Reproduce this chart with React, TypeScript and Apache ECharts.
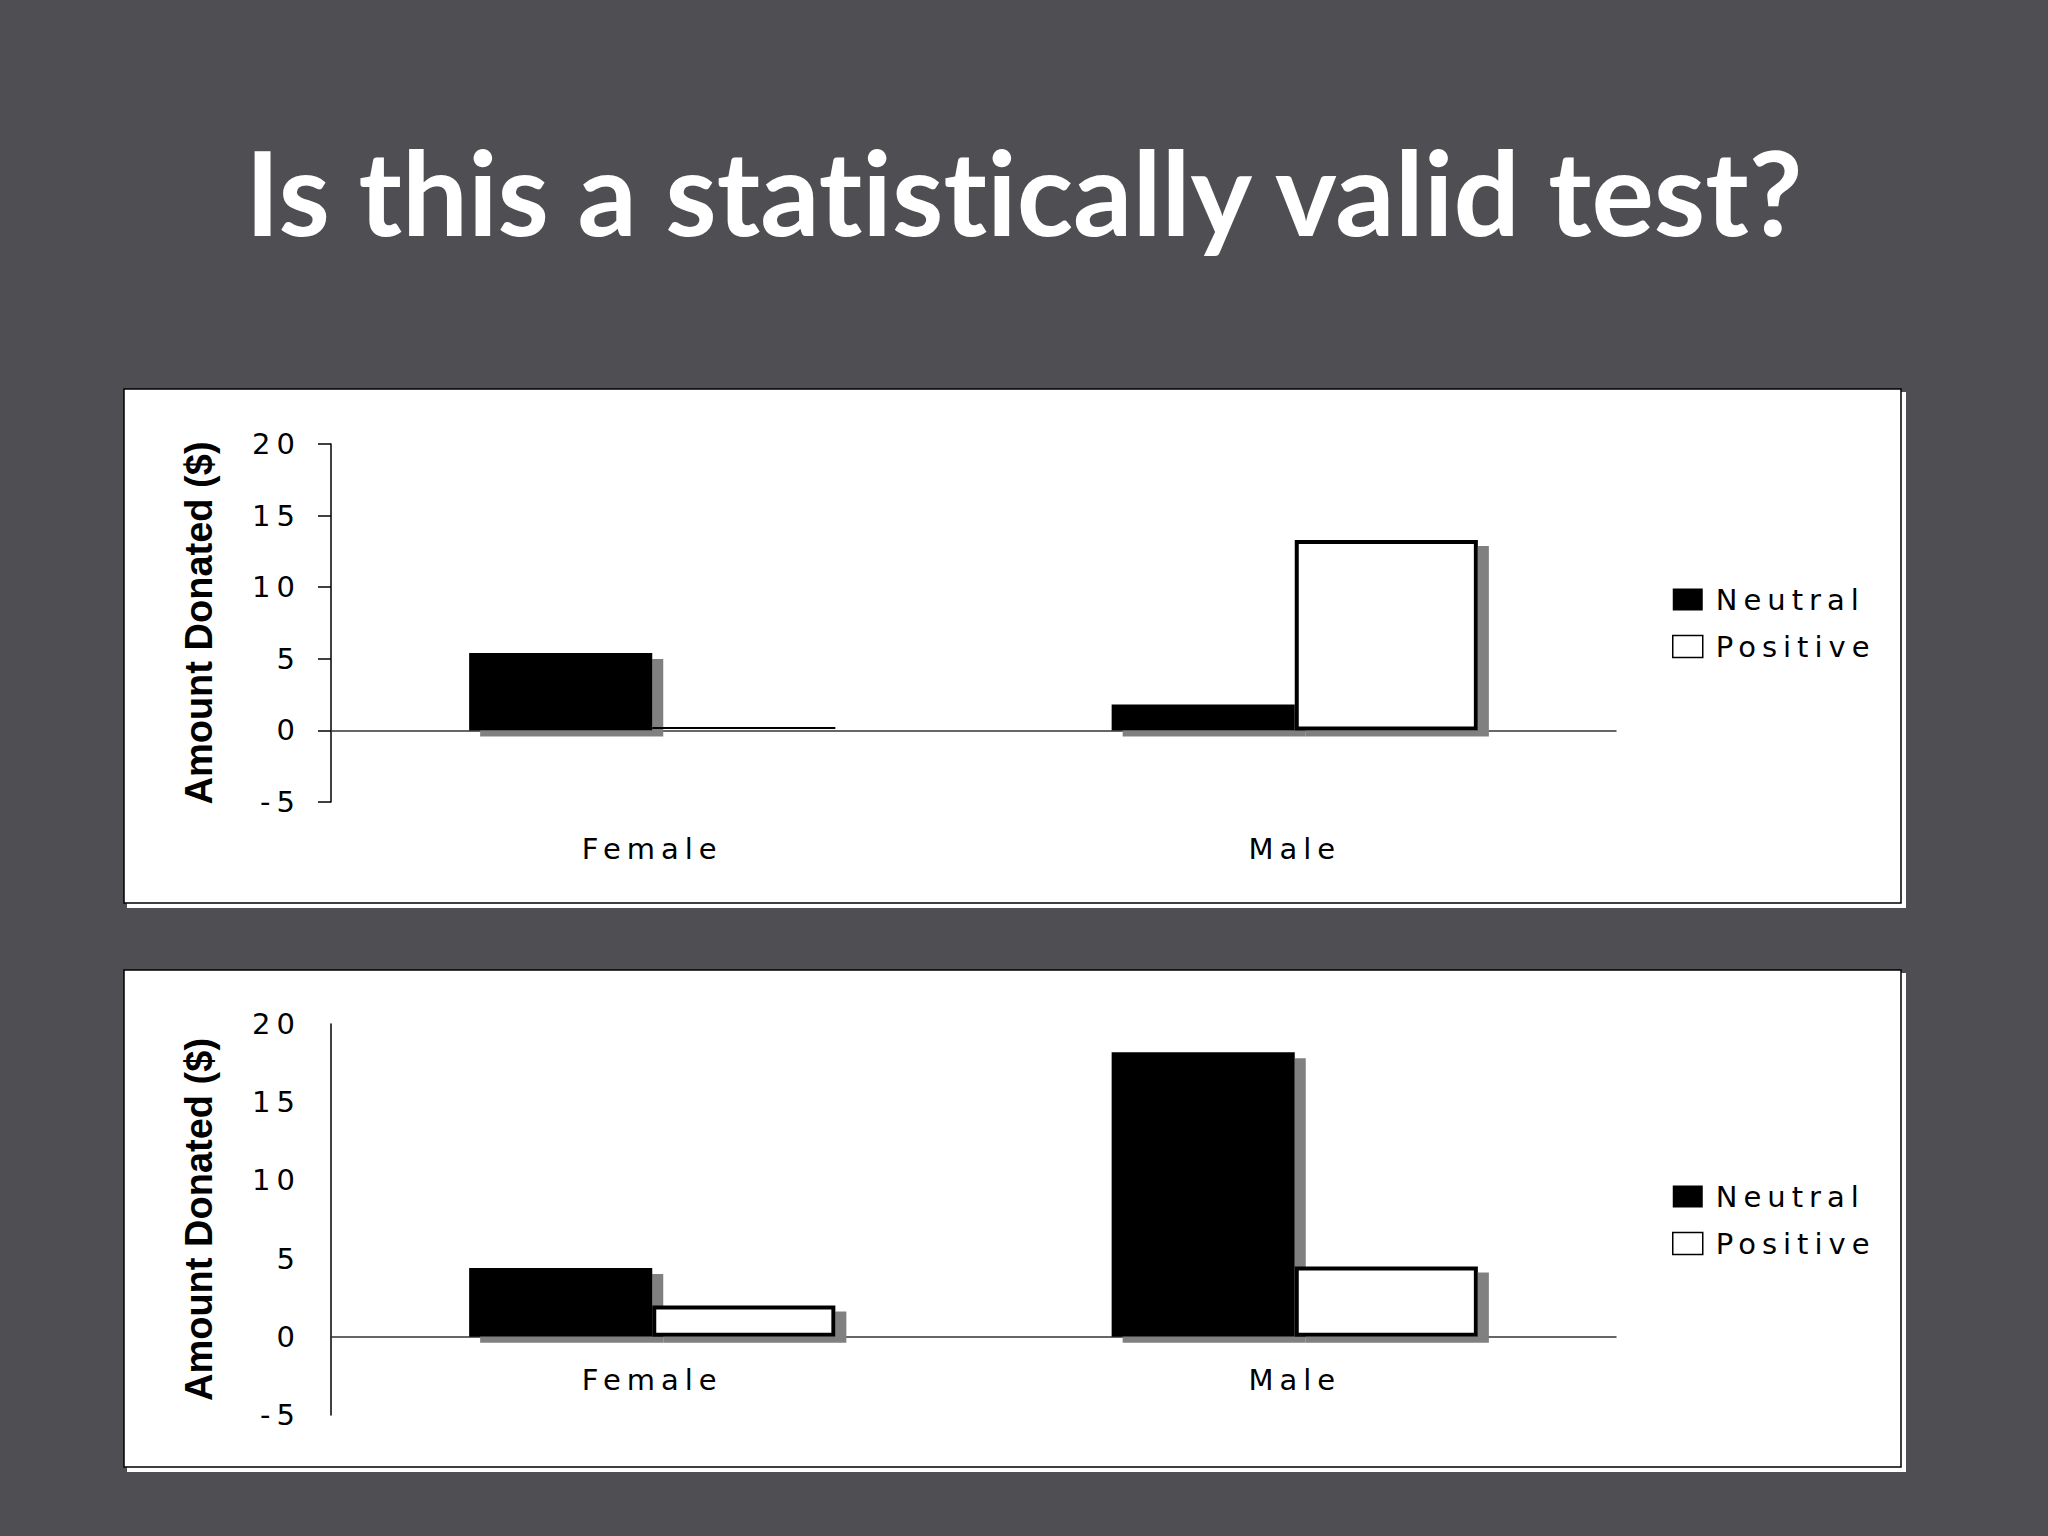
import * as echarts from 'echarts';
import { useEffect, useRef } from 'react';

const categories = ['Female', 'Male'];
const seriesNames = ['Neutral', 'Positive'];

// upper chart
const topNeutral = [5.4, 1.8];
const topPositive = [0.3, 13.3];

// lower chart
const bottomNeutral = [4.4, 18.2];
const bottomPositive = [2.0, 4.5];

const yMin = -5;
const yMax = 20;
const yStep = 5;

const titleText = 'Is this a statistically valid test?';
const yAxisTitle = 'Amount Donated ($)';

const BG = '#4f4e53';
const LABEL_FONT = 'DejaVu Sans';
const NAME_FONT = 'Liberation Sans';

const shadow = {
  shadowColor: '#808080',
  shadowBlur: 0,
  shadowOffsetX: 11,
  shadowOffsetY: 6,
};

const neutralStyle = { color: '#000', ...shadow };
const positiveStyle = { color: '#fff', borderColor: '#000', borderWidth: 4, ...shadow };

const makeYAxis = (gridIndex: number, ticks: boolean) => ({
  type: 'value' as const,
  gridIndex,
  min: yMin,
  max: yMax,
  interval: yStep,
  splitLine: { show: false },
  axisLine: { show: true, lineStyle: { color: '#000', width: 1.5 } },
  axisTick: { show: ticks, inside: false, length: 13, lineStyle: { color: '#000', width: 1.5 } },
  axisLabel: { fontFamily: LABEL_FONT, fontSize: 29, color: '#000', margin: 30 },
  name: yAxisTitle,
  nameLocation: 'middle' as const,
  nameRotate: 90,
  nameGap: 113,
  nameTextStyle: { fontFamily: NAME_FONT, fontWeight: 'bold' as const, fontSize: 38, color: '#000' },
});

// labels are laid out from the grid bottom, the line itself sits on zero
const makeXAxis = (gridIndex: number, margin: number) => ({
  type: 'category' as const,
  gridIndex,
  data: categories,
  axisLine: { onZero: true, lineStyle: { color: '#333', width: 1.5 } },
  axisTick: { show: false },
  axisLabel: { fontFamily: LABEL_FONT, fontSize: 29, color: '#000', margin },
});

const makeLegend = (top: number) => ({
  orient: 'vertical' as const,
  left: 1672,
  top,
  padding: 0,
  itemWidth: 30,
  itemHeight: 22,
  itemGap: 18,
  icon: 'rect',
  itemStyle: { shadowBlur: 0, shadowOffsetX: 0, shadowOffsetY: 0, shadowColor: 'transparent' },
  textStyle: { fontFamily: LABEL_FONT, fontSize: 29, color: '#000', padding: [0, 0, 0, 8] },
  data: [
    { name: seriesNames[0], itemStyle: { color: '#000', borderWidth: 0 } },
    { name: seriesNames[1], itemStyle: { color: '#fff', borderColor: '#000', borderWidth: 1.5 } },
  ],
});

const makePanel = (y: number, h: number) => [
  {
    type: 'rect',
    z: -20,
    shape: { x: 128, y: y + 4, width: 1777, height: h },
    style: { fill: '#fff', stroke: '#fff', lineWidth: 2 },
  },
  {
    type: 'rect',
    z: -10,
    shape: { x: 124, y, width: 1777, height: h },
    style: { fill: '#fff', stroke: '#000', lineWidth: 1.5 },
  },
];

const barSeries = (name: string, data: number[], idx: number, style: object) => ({
  name,
  type: 'bar' as const,
  xAxisIndex: idx,
  yAxisIndex: idx,
  data,
  barGap: '0%',
  barCategoryGap: '43%',
  itemStyle: style,
});

export default function App() {
  const chartRef = useRef<HTMLDivElement>(null);

  useEffect(() => {
    if (!chartRef.current) return;
    const chart = echarts.init(chartRef.current, undefined, { renderer: 'svg' });

    chart.setOption({
      animation: false,
      backgroundColor: BG,
      graphic: [
        ...makePanel(389, 514),
        ...makePanel(970, 497),
        {
          type: 'text',
          x: 1024,
          y: 191,
          style: {
            text: titleText,
            fill: '#fff',
            fontFamily: 'Lato',
            fontWeight: 'bold',
            fontSize: 117,
            align: 'center',
            verticalAlign: 'middle',
          },
        },
      ],
      grid: [
        { left: 331, top: 444, width: 1285, height: 358 },
        { left: 331, top: 1024, width: 1285, height: 391 },
      ],
      xAxis: [makeXAxis(0, 32), makeXAxis(1, -50)],
      yAxis: [makeYAxis(0, true), makeYAxis(1, false)],
      legend: [makeLegend(585), makeLegend(1182)],
      series: [
        barSeries(seriesNames[0], topNeutral, 0, neutralStyle),
        barSeries(seriesNames[1], topPositive, 0, positiveStyle),
        barSeries(seriesNames[0], bottomNeutral, 1, neutralStyle),
        barSeries(seriesNames[1], bottomPositive, 1, positiveStyle),
      ],
    });

    return () => {
      chart.dispose();
    };
  }, []);

  return (
    <>
      <style>{`
        .cv text[style*="DejaVu"] { letter-spacing: 6px; }
        .cv text[style*="Lato"] { font-variant-ligatures: none; }
      `}</style>
      <div
        className="cv"
        ref={chartRef}
        style={{ position: 'fixed', left: 0, top: 0, width: 2048, height: 1536 }}
      />
    </>
  );
}
